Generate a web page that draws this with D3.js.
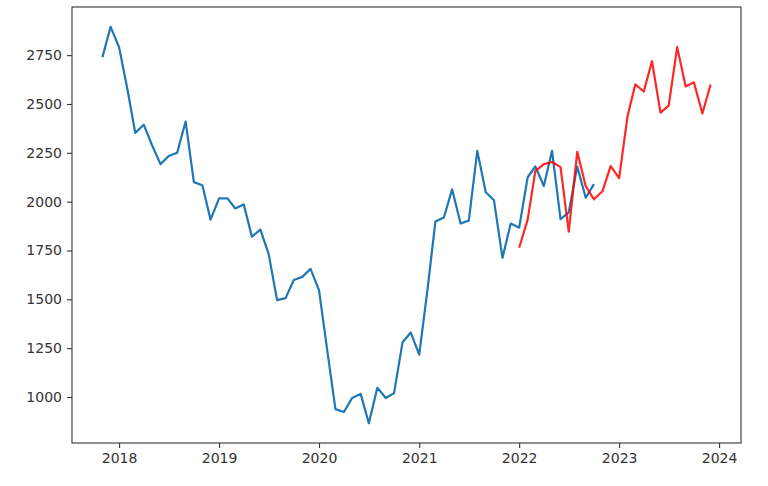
<!DOCTYPE html>
<html><head><meta charset="utf-8">
<script src="https://cdn.jsdelivr.net/npm/d3@7"></script>
<style>body{margin:0;background:#fff}svg{display:block}text{font-family:"DejaVu Sans",sans-serif}</style>
</head><body><svg id="c" width="768" height="486"></svg>
<script>
const actualStart = "2017-11-01";
const actualValues = [2740,2895,2790,2570,2352,2394,2290,2192,2234,2250,2410,2100,2084,1908,2017,2017,1965,1986,1821,1857,1733,1496,1506,1599,1615,1656,1547,1230,938,923,995,1016,866,1047,995,1020,1280,1330,1217,1560,1898,1919,2063,1888,1903,2260,2048,2007,1712,1888,1867,2125,2180,2080,2260,1910,1945,2180,2020,2090];
const forecastStart = "2022-01-01";
const forecastValues = [1764,1908,2156,2192,2203,2177,1847,2255,2079,2012,2053,2182,2120,2440,2600,2564,2719,2456,2492,2791,2590,2611,2451,2600];
const yTicks = [1000,1250,1500,1750,2000,2250,2500,2750];
const xTickYears = [2018,2019,2020,2021,2022,2023,2024];

const monthly = (start, vals) => vals.map((v,i)=>{const d=new Date(start+"T00:00:00"); d.setMonth(d.getMonth()+i); return {d, v};});
const actual = monthly(actualStart, actualValues);
const forecast = monthly(forecastStart, forecastValues);
const all = actual.concat(forecast);

const L=72,R=741,T=7,B=443;
const svg=d3.select("#c");
const [dmin,dmax]=d3.extent(all,p=>p.d);
const pad=(dmax-dmin)*0.05;
const x=d3.scaleTime().domain([new Date(+dmin-pad),new Date(+dmax+pad)]).range([L,R]);
const [vmin,vmax]=d3.extent(all,p=>p.v);
const vp=(vmax-vmin)*0.05;
const y=d3.scaleLinear().domain([vmin-vp,vmax+vp]).range([B,T]);

const line=d3.line().x(p=>x(p.d)).y(p=>y(p.v));
svg.append("path").datum(actual).attr("d",line).attr("fill","none").attr("stroke","#1f77b4").attr("stroke-width",2.2).attr("stroke-linejoin","round");
svg.append("path").datum(forecast).attr("d",line).attr("fill","none").attr("stroke","red").attr("stroke-opacity",0.85).attr("stroke-width",2.2).attr("stroke-linejoin","round");

const xa=svg.append("g").attr("transform",`translate(0,${B})`).call(d3.axisBottom(x).tickValues(xTickYears.map(yr=>new Date(yr,0,1))).tickFormat(d3.timeFormat("%Y")).tickSize(5).tickPadding(5));
const ya=svg.append("g").attr("transform",`translate(${L},0)`).call(d3.axisLeft(y).tickValues(yTicks).tickFormat(d3.format("d")).tickSize(5).tickPadding(5));
[xa,ya].forEach(g=>{g.select(".domain").remove();g.selectAll("line").attr("stroke","#333").attr("stroke-width",1.1);g.selectAll("text").attr("fill","#333").style("font-size","14px").style("font-family","DejaVu Sans");});
svg.append("rect").attr("x",L).attr("y",T).attr("width",R-L).attr("height",B-T).attr("fill","none").attr("stroke","#333").attr("stroke-width",1.1);
</script></body></html>
